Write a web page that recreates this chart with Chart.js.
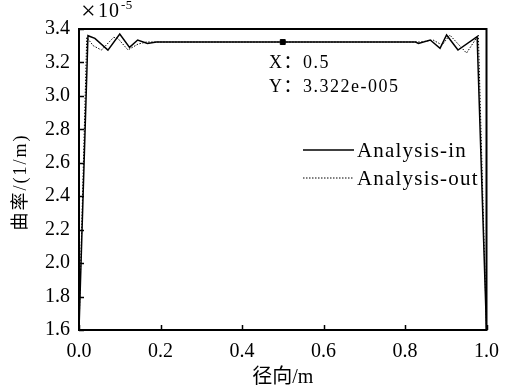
<!DOCTYPE html>
<html><head><meta charset="utf-8">
<script src="https://cdn.jsdelivr.net/npm/chart.js@4.4.0/dist/chart.umd.min.js"></script>
<style>html,body{margin:0;padding:0;background:#fff}canvas{display:block}</style>
</head><body>
<canvas id="c" width="509" height="389"></canvas>
<script>
// ---- data ----
const xTicks = [0, 0.2, 0.4, 0.6, 0.8, 1.0];
const yTicks = [1.6, 1.8, 2.0, 2.2, 2.4, 2.6, 2.8, 3.0, 3.2, 3.4];
const seriesNames = ['Analysis-in', 'Analysis-out'];
const xIn = [0, 0.022, 0.039, 0.071, 0.100, 0.124, 0.144, 0.168, 0.19, 0.5, 0.826, 0.833, 0.862, 0.886, 0.902, 0.930, 0.977, 1.0];
const yIn = [1.6, 3.36, 3.344, 3.274, 3.37, 3.29, 3.334, 3.314, 3.322, 3.322, 3.322, 3.314, 3.334, 3.285, 3.364, 3.274, 3.354, 1.6];
const xOut = [0, 0.019, 0.035, 0.055, 0.085, 0.095, 0.120, 0.145, 0.165, 0.5, 0.838, 0.869, 0.891, 0.910, 0.951, 0.980, 1.0];
const yOut = [1.6, 3.35, 3.30, 3.274, 3.35, 3.345, 3.275, 3.31, 3.322, 3.322, 3.322, 3.334, 3.304, 3.364, 3.256, 3.364, 1.6];
const tipX = [0.5];
const tipY = [3.322];
const tipLabels = ['X：0.5', 'Y：3.322e-005'];
const xTitle = '径向/m';
const yTitle = '曲率/(1/m)';
const expTimes = '×';
const expBase = '10';
const expPow = '-5';

const SERIF = '"Liberation Serif", "Times New Roman", "Noto Sans CJK SC", serif';
const pts = (xs, ys) => xs.map((x, i) => ({x: x, y: ys[i]}));
const LS = (ctx, v) => { if ('letterSpacing' in ctx) ctx.letterSpacing = v; };

const deco = {
  id: 'deco',
  beforeDraw(chart) { LS(chart.ctx, '0px'); },
  afterDraw(chart) {
    const ctx = chart.ctx;
    const a = chart.chartArea;
    const xs = chart.scales.x, ys = chart.scales.y;
    ctx.save();
    ctx.strokeStyle = '#000';
    ctx.lineWidth = 2;
    ctx.strokeRect(a.left, a.top, a.right - a.left, a.bottom - a.top);
    ctx.lineWidth = 1.5;
    ctx.beginPath();
    xs.ticks.forEach(t => {
      const p = Math.round(xs.getPixelForValue(t.value)) + 0.5;
      ctx.moveTo(p, a.bottom); ctx.lineTo(p, a.bottom - 5);
    });
    ys.ticks.forEach(t => {
      const p = Math.round(ys.getPixelForValue(t.value)) + 0.5;
      ctx.moveTo(a.left, p); ctx.lineTo(a.left + 5, p);
    });
    ctx.stroke();

    // legend
    ctx.fillStyle = '#000';
    ctx.textBaseline = 'middle';
    ctx.textAlign = 'left';
    ctx.font = '21px ' + SERIF;
    LS(ctx, '1.2px');
    const lg = [[150, []], [178, [1.5, 1.5]]];
    chart.data.datasets.slice(0, 2).forEach((ds, i) => {
      ctx.setLineDash(lg[i][1]);
      ctx.lineWidth = ds.borderWidth;
      ctx.beginPath(); ctx.moveTo(303, lg[i][0]); ctx.lineTo(354, lg[i][0]); ctx.stroke();
      ctx.setLineDash([]);
      ctx.fillText(ds.label, 357, lg[i][0] + 1);
    });

    // data tip text
    ctx.font = '18px ' + SERIF;
    LS(ctx, '1.5px');
    ctx.fillText(tipLabels[0], 269, 63);
    ctx.fillText(tipLabels[1], 269, 87);

    // exponent
    LS(ctx, '0px');
    ctx.font = '26px ' + SERIF;
    ctx.fillText(expTimes, 81, 12);
    ctx.font = '20px ' + SERIF;
    LS(ctx, '1px');
    ctx.fillText(expBase, 98, 12);
    ctx.font = '13px ' + SERIF;
    LS(ctx, '0.5px');
    ctx.fillText(expPow, 121, 6);

    // axis titles
    ctx.textAlign = 'center';
    ctx.font = '20px ' + SERIF;
    LS(ctx, '0px');
    ctx.fillText(xTitle, (a.left + a.right) / 2, 378);
    ctx.font = '18px ' + SERIF;
    LS(ctx, '2px');
    ctx.translate(21, 182);
    ctx.rotate(-Math.PI / 2);
    ctx.fillText(yTitle, 0, 0);
    ctx.restore();
    LS(ctx, '0px');
  }
};

new Chart(document.getElementById('c'), {
  type: 'scatter',
  data: {
    datasets: [
      {label: seriesNames[0], data: pts(xIn, yIn), showLine: true, borderColor: '#000', borderWidth: 1.5, pointRadius: 0, tension: 0},
      {label: seriesNames[1], data: pts(xOut, yOut), showLine: true, borderColor: '#000', borderWidth: 1, borderDash: [1.5, 1.5], pointRadius: 0, tension: 0},
      {label: 'tip', data: pts(tipX, tipY), showLine: false, pointStyle: 'rect', pointRadius: 3.5, backgroundColor: '#000', borderColor: '#000'}
    ]
  },
  options: {
    responsive: false,
    animation: false,
    devicePixelRatio: 1,
    layout: {padding: {left: 0, top: 29, right: 17, bottom: 0}},
    plugins: {legend: {display: false}, tooltip: {enabled: false}},
    scales: {
      x: {
        type: 'linear', min: 0, max: 1,
        afterFit: s => { s.height = 59; },
        afterBuildTicks: s => { s.ticks = xTicks.map(v => ({value: v})); },
        grid: {display: false, drawTicks: false},
        border: {display: false},
        ticks: {color: '#000', padding: 10, font: {family: SERIF, size: 20}, callback: v => v.toFixed(1), maxRotation: 0, autoSkip: false}
      },
      y: {
        type: 'linear', min: 1.6, max: 3.4,
        afterFit: s => { s.width = 79; },
        afterBuildTicks: s => { s.ticks = yTicks.map(v => ({value: v})); },
        grid: {display: false, drawTicks: false},
        border: {display: false},
        ticks: {color: '#000', padding: 9, font: {family: SERIF, size: 20}, callback: v => v.toFixed(1), autoSkip: false}
      }
    }
  },
  plugins: [deco]
});
</script>
</body></html>
